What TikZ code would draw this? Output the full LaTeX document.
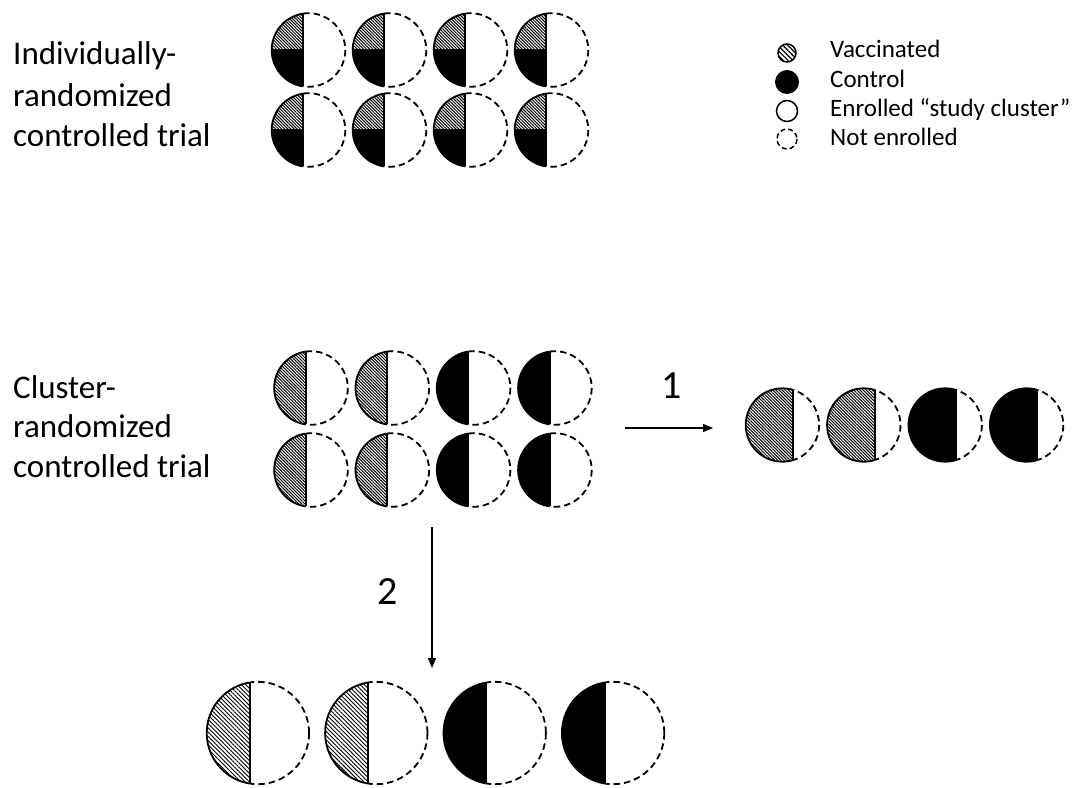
\documentclass[tikz,border=0pt]{standalone}
\usepackage{fontspec}
\setmainfont{Carlito}
\usetikzlibrary{arrows.meta,patterns.meta}
\tikzset{
  outl/.style={line width=1.8pt, line join=round},
  dsh/.style={line width=1.8pt, dash pattern=on 6.5pt off 4pt},
  hatchA/.style={pattern={Lines[angle=-45,distance=2.2pt,line width=1pt]}},
  hatchB/.style={pattern={Lines[angle=-45,distance=3pt,line width=0.9pt]}},
  ctrl/.style={fill=black},
  lbl/.style={anchor=base west, inner sep=0pt, font=\fontsize{33}{40}\selectfont},
  leg/.style={anchor=base west, inner sep=0pt, font=\fontsize{25}{29}\selectfont},
  num/.style={inner sep=0pt, font=\fontsize{40}{48}\selectfont},
  arr/.style={line width=1.3pt, -{Triangle[length=10pt,width=8pt]}},
}
% #1 centre x, #2 centre y, #3 radius, #4 offset of the dividing chord from the centre, #5 fill style of the left part
\newcommand\ccirc[5]{%
  \pgfmathsetmacro\hh{sqrt((#3)*(#3)-(#4)*(#4))}%
  \pgfmathsetmacro\lx{#1+(#4)}%
  \begin{scope}
    \clip (#1-#3-3,#2-#3-3) rectangle (\lx,#2+#3+3);
    \path[#5] (#1,#2) circle[radius=#3];
    \draw[outl] (#1,#2) circle[radius=#3];
  \end{scope}
  \begin{scope}
    \clip (\lx,#2-#3-3) rectangle (#1+#3+3,#2+#3+3);
    \draw[dsh] (#1,#2) circle[radius=#3];
  \end{scope}
  \draw[outl] (\lx,#2-\hh) -- (\lx,#2+\hh);
}
% quartered version: upper left hatched, lower left black
\newcommand\qcirc[4]{%
  \pgfmathsetmacro\hh{sqrt((#3)*(#3)-(#4)*(#4))}%
  \pgfmathsetmacro\lx{#1+(#4)}%
  \begin{scope}
    \clip (#1-#3-3,#2-#3-3) rectangle (\lx,#2+#3+3);
    \begin{scope}
      \clip (#1,#2) circle[radius=#3];
      \path[hatchA] (#1-#3-3,#2-#3-3) rectangle (\lx,#2);
      \fill[black] (#1-#3-3,#2) rectangle (\lx,#2+#3+3);
    \end{scope}
    \draw[outl] (#1,#2) circle[radius=#3];
    \draw[outl] (#1-#3,#2) -- (\lx,#2);
  \end{scope}
  \begin{scope}
    \clip (\lx,#2-#3-3) rectangle (#1+#3+3,#2+#3+3);
    \draw[dsh] (#1,#2) circle[radius=#3];
  \end{scope}
  \draw[outl] (\lx,#2-\hh) -- (\lx,#2+\hh);
}
\begin{document}
\begin{tikzpicture}[x=1pt,y=-1pt]
\path[use as bounding box, fill=white] (0,0) rectangle (1084,787);

% left labels
\node[lbl] (t1) at (13,64) {Individually-};
\node[lbl] (t2) at (13,106) {randomized};
\node[lbl] (t3) at (13,146) {controlled trial};
\node[lbl] (c1) at (13,398) {Cluster-};
\node[lbl] (c2) at (13,437) {randomized};
\node[lbl] (c3) at (13,477) {controlled trial};

% individually randomized grid
\foreach \i in {0,1,2,3}{
  \pgfmathsetmacro\cx{308.5+81*\i}
  \qcirc{\cx}{50}{36.8}{-5.5}
  \qcirc{\cx}{130}{36.8}{-5.5}
}

% cluster randomized grid
\foreach \i/\s in {0/hatchA,1/hatchA,2/ctrl,3/ctrl}{
  \pgfmathsetmacro\cx{311+81.3*\i}
  \ccirc{\cx}{388}{36.8}{-5.3}{\s}
  \ccirc{\cx}{470}{36.8}{-5.3}{\s}
}

% option 1 row
\foreach \i/\s in {0/hatchA,1/hatchA,2/ctrl,3/ctrl}{
  \pgfmathsetmacro\cx{782.4+81.4*\i}
  \ccirc{\cx}{425}{36.7}{10.9}{\s}
}

% option 2 row
\foreach \i/\s in {0/hatchB,1/hatchB,2/ctrl,3/ctrl}{
  \pgfmathsetmacro\cx{257.9+118.4*\i}
  \ccirc{\cx}{733}{51.2}{-8.3}{\s}
}

% arrows
\coordinate (h1s) at (625,428);
\coordinate (h1e) at (713,428);
\draw[arr] (h1s) -- (h1e);
\node[num] (n1) at (672,386) {1};
\coordinate (v2s) at (432,527);
\coordinate (v2e) at (432,668);
\draw[arr] (v2s) -- (v2e);
\node[num] (n2) at (388,592) {2};

% legend
\path[pattern={Lines[angle=-45,distance=3.5pt,line width=1.2pt]}] (787,53) circle[radius=9];
\draw[line width=1.5pt] (787,53) circle[radius=9];
\fill (787,82) circle[radius=12];
\draw[line width=1.5pt] (787,111) circle[radius=10.5];
\draw[line width=1.5pt, dash pattern=on 5pt off 3pt] (787,139) circle[radius=10];
\node[leg] (l1) at (830,57.5) {Vaccinated};
\node[leg] (l2) at (830,87) {Control};
\node[leg] (l3) at (830,116) {Enrolled “study cluster”};
\node[leg] (l4) at (830,145) {Not enrolled};
\end{tikzpicture}
\end{document}
